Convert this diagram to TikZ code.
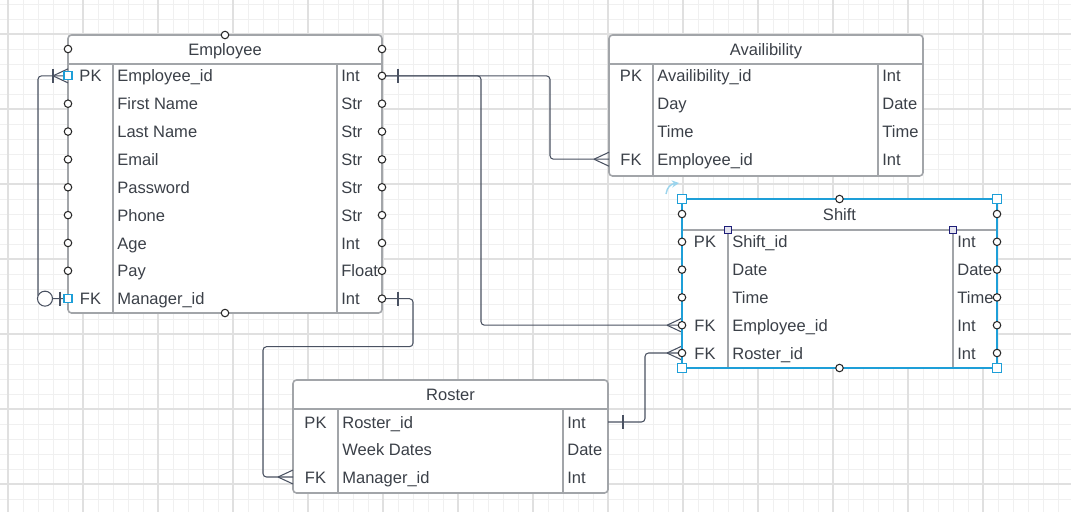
\documentclass[tikz,border=0pt]{standalone}
\usepackage{fontspec}
\setmainfont{Liberation Sans}
\usepackage{xcolor}
\usetikzlibrary{positioning}
\definecolor{gridminor}{HTML}{F0F0F0}
\definecolor{gridmajor}{HTML}{E0E0E0}
\definecolor{frame}{HTML}{A2A5A9}
\definecolor{ink}{HTML}{3B4048}
\definecolor{wire}{HTML}{4A5262}
\definecolor{select}{HTML}{1E9FD8}
\definecolor{handle}{HTML}{1E1E78}
\tikzset{%
	entity/.style={draw=frame, line width=0.9pt, rounded corners=2pt, fill=white},
	divider/.style={draw=frame, line width=0.9pt},
	field/.style={anchor=west, inner sep=0pt, text=ink,
		font=\fontsize{9.4}{10}\selectfont, text height=8.9pt, text depth=2pt},
	key/.style={field, anchor=center},
	title/.style={field, anchor=center},
	conn/.style={draw=wire, line width=0.6pt, rounded corners=2pt},
	endmark/.style={draw=wire, line width=0.6pt},
	port/.style={circle, draw=black!85, fill=white, line width=0.6pt,
		inner sep=0pt, minimum size=0.15cm},
	port-key/.style={rectangle, draw=select, fill=white, line width=0.6pt,
		inner sep=0pt, minimum size=0.16cm},
	corner-handle/.style={rectangle, draw=select, fill=white, line width=0.6pt,
		inner sep=0pt, minimum size=0.18cm},
	column-handle/.style={rectangle, draw=handle, fill=handle!12, line width=0.6pt,
		inner sep=0pt, minimum size=0.15cm},
}

\begin{document}
\begin{tikzpicture}[x=0.02cm, y=-0.02cm, >=stealth]
\useasboundingbox (0,0) rectangle (1071,512);
\fill[white] (0,0) rectangle (1071,512);

% grid
\foreach \x in {8,23,...,1058}
	\draw[gridminor, line width=0.5pt] (\x,0) -- (\x,512);
\foreach \y in {4,19,...,499}
	\draw[gridminor, line width=0.5pt] (0,\y) -- (1071,\y);
\foreach \x in {8,83,...,983}
	\draw[gridmajor, line width=0.6pt] (\x,0) -- (\x,512);
\foreach \y in {34,109,...,484}
	\draw[gridmajor, line width=0.6pt] (0,\y) -- (1071,\y);

% Employee
\draw[entity] (68,35) rectangle (382,313);
\draw[divider] (68,64) -- (382,64) (113,64) -- (113,313) (337,64) -- (337,313);
\node[title] (emp-title) at (225,49) {Employee};
\foreach \k/\n/\t [count=\i] in {PK/Employee\_id/Int, /First Name/Str, /Last Name/Str,
		/Email/Str, /Password/Str, /Phone/Str, /Age/Int, /Pay/Float, FK/Manager\_id/Int}{
	\coordinate (emp-l\i) at (68,48+\i*27.85);
	\coordinate (emp-r\i) at (382,48+\i*27.85);
	\node[key] (emp-key-\i) at (90.5,48+\i*27.85) {\k};
	\node[field] (emp-name-\i) at (117,48+\i*27.85) {\n};
	\node[field] (emp-type-\i) at (341,48+\i*27.85) {\t};
}

% Availibility
\draw[entity] (609,35) rectangle (923,176);
\draw[divider] (609,64) -- (923,64) (653,64) -- (653,176) (878,64) -- (878,176);
\node[title] (av-title) at (766,49) {Availibility};
\foreach \k/\n/\t [count=\i] in {PK/Availibility\_id/Int, /Day/Date, /Time/Time, FK/Employee\_id/Int}{
	\coordinate (av-l\i) at (609,48+\i*27.8);
	\coordinate (av-r\i) at (923,48+\i*27.8);
	\node[key] (av-key-\i) at (631,48+\i*27.8) {\k};
	\node[field] (av-name-\i) at (657,48+\i*27.8) {\n};
	\node[field] (av-type-\i) at (882,48+\i*27.8) {\t};
}

% Shift
\draw[entity] (682,199) rectangle (997,368);
\draw[divider] (682,230) -- (997,230) (728,230) -- (728,368) (953,230) -- (953,368);
\node[title] (sh-title) at (839.5,214) {Shift};
\foreach \k/\n/\t [count=\i] in {PK/Shift\_id/Int, /Date/Date, /Time/Time,
		FK/Employee\_id/Int, FK/Roster\_id/Int}{
	\coordinate (sh-l\i) at (682,214+\i*27.8);
	\coordinate (sh-r\i) at (997,214+\i*27.8);
	\node[key] (sh-key-\i) at (705,214+\i*27.8) {\k};
	\node[field] (sh-name-\i) at (732,214+\i*27.8) {\n};
	\node[field] (sh-type-\i) at (957,214+\i*27.8) {\t};
}

% Roster
\draw[entity] (293,380) rectangle (608,493);
\draw[divider] (293,409) -- (608,409) (338,409) -- (338,493) (563,409) -- (563,493);
\node[title] (ro-title) at (450.5,394) {Roster};
\foreach \k/\n/\t [count=\i] in {PK/Roster\_id/Int, /Week Dates/Date, FK/Manager\_id/Int}{
	\coordinate (ro-l\i) at (293,394.5+\i*27.5);
	\coordinate (ro-r\i) at (608,394.5+\i*27.5);
	\node[key] (ro-key-\i) at (315.5,394.5+\i*27.5) {\k};
	\node[field] (ro-name-\i) at (342,394.5+\i*27.5) {\n};
	\node[field] (ro-type-\i) at (567,394.5+\i*27.5) {\t};
}

% relationships
\draw[conn] (emp-r1) -- ++(168,0) |- (av-l4);
\draw[conn] (emp-r1) -- ++(99,0) |- (sh-l4);
\draw[conn] (emp-r9) -- ++(31,0) -- ++(0,48) -- ++(-150,0) |- (ro-l3);
\draw[conn] (ro-r1) -- ++(37,0) |- (sh-l5);
\draw[conn] (emp-l1) -- ++(-30,0) |- (emp-l9);

% crow's feet
\foreach \e in {av-l4, sh-l4, sh-l5, ro-l3, emp-l1}
	\draw[endmark] ([shift={(-15,0)}]\e) -- ([shift={(0,-7)}]\e)
		([shift={(-15,0)}]\e) -- ([shift={(0,7)}]\e);

% bars
\foreach \e/\d in {emp-r1/16, emp-r9/16, ro-r1/15, emp-l1/-15, emp-l9/-8}
	\draw[endmark] ([shift={(\d,-7)}]\e) -- ([shift={(\d,7)}]\e);
\draw[endmark, fill=white] ([shift={(-23,0)}]emp-l9) circle[radius=7.5];

% connection points on Employee
\node[port] (emp-top) at (225,35) {};
\node[port] (emp-bottom) at (225,313) {};
\node[port] (emp-pl-0) at (68,49) {};
\node[port] (emp-pr-0) at (382,49) {};
\foreach \i in {2,...,8}
	\node[port] (emp-pl-\i) at (emp-l\i) {};
\foreach \i in {1,...,9}
	\node[port] (emp-pr-\i) at (emp-r\i) {};
\node[port-key] (emp-sq-1) at (emp-l1) {};
\node[port-key] (emp-sq-9) at (emp-l9) {};

% Shift is selected
\draw[select, line width=0.8pt] (682,199) rectangle (997,368);
\node[port] (sh-top) at (839.5,199) {};
\node[port] (sh-bottom) at (839.5,368) {};
\node[port] (sh-pl-0) at (682,214) {};
\node[port] (sh-pr-0) at (997,214) {};
\foreach \i in {1,...,5}{
	\node[port] (sh-pl-\i) at (sh-l\i) {};
	\node[port] (sh-pr-\i) at (sh-r\i) {};
}
\foreach \p [count=\i] in {(682,199), (997,199), (682,368), (997,368)}
	\node[corner-handle] (sh-corner-\i) at \p {};
\node[column-handle] (sh-col-1) at (728,230) {};
\node[column-handle] (sh-col-2) at (953,230) {};
\draw[select!45, line width=0.8pt, ->] (666,194) .. controls (667,187) and (671,184) .. (679,183);

\end{tikzpicture}
\end{document}
